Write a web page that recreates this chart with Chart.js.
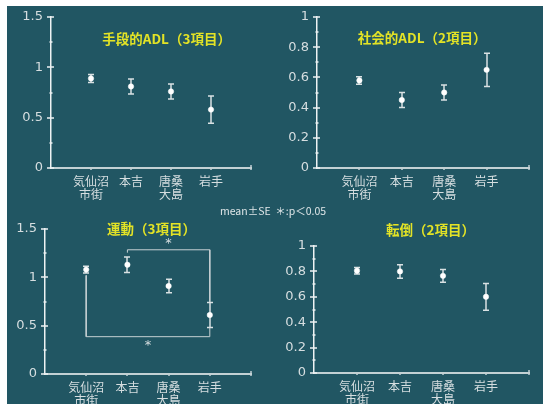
<!DOCTYPE html>
<html>
<head>
<meta charset="utf-8">
<script src="https://cdn.jsdelivr.net/npm/chart.js@4.4.1/dist/chart.umd.min.js"></script>
<style>
    body { margin: 0; background: #ffffff; }
    #board { position: absolute; left: 7px; top: 6px; width: 536px; height: 398px; background: #215663; }
    canvas { position: absolute; }
    #note {
        position: absolute; left: 220px; top: 203px;
        font: 10.5px "Noto Sans CJK JP", sans-serif; color: #dfe6e8; white-space: pre;
    }
</style>
</head>
<body>
<div id="board"></div>
<canvas id="iadlChart" width="272" height="205" style="left:0;top:0"></canvas>
<canvas id="socialChart" width="271" height="205" style="left:272px;top:0"></canvas>
<canvas id="motorChart" width="272" height="199" style="left:0;top:205px"></canvas>
<canvas id="fallChart" width="271" height="199" style="left:272px;top:205px"></canvas>
<div id="note">mean±SE  ＊:p＜0.05</div>
<script>
const categories = [['気仙沼', '市街'], '本吉', ['唐桑', '大島'], '岩手'];

const iadlMean = [0.89, 0.81, 0.76, 0.58];
const iadlSE = [0.04, 0.075, 0.075, 0.135];

const socialMean = [0.58, 0.45, 0.50, 0.65];
const socialSE = [0.025, 0.05, 0.05, 0.11];

const motorMean = [1.08, 1.13, 0.91, 0.61];
const motorSE = [0.035, 0.08, 0.07, 0.13];

const fallMean = [0.805, 0.80, 0.765, 0.60];
const fallSE = [0.025, 0.053, 0.05, 0.105];

const ticksWide = [0, 0.5, 1, 1.5];
const ticksUnit = [0, 0.2, 0.4, 0.6, 0.8, 1];

// significance brackets of the motor panel, in data units
const sigUpper = [{ x: 2, y: 1.255 }, { x: 2, y: 1.285 }, { x: 4, y: 1.285 }, { x: 4, y: 0.745 }];
const sigLower = [{ x: 1, y: 1.02 }, { x: 1, y: 0.386 }, { x: 4, y: 0.386 }, { x: 4, y: 0.48 }];
const sigStars = [{ x: 3, y: 1.345 }, { x: 2.5, y: 0.295 }];

const colors = {
    axisY: '#eef2f3',
    axisX: '#c3d1d4',
    text: '#d6dee0',
    bar: '#d9e1e3',
    point: '#ffffff',
    bracket: '#c6d0d3',
    title: '#e3e326',
};

const errorBars = {
    id: 'errorBars',
    beforeDatasetsDraw(chart, args, opts) {
        const { ctx } = chart;
        const x = chart.scales.x;
        const y = chart.scales.y;
        ctx.save();
        ctx.strokeStyle = colors.bar;
        ctx.lineWidth = 1.5;
        opts.mean.forEach((m, i) => {
            const px = Math.round(x.getPixelForValue(i + 1));
            const top = y.getPixelForValue(m + opts.se[i]);
            const bottom = y.getPixelForValue(m - opts.se[i]);
            ctx.beginPath();
            ctx.moveTo(px, top);
            ctx.lineTo(px, bottom);
            ctx.moveTo(px - 3, top);
            ctx.lineTo(px + 3, top);
            ctx.moveTo(px - 3, bottom);
            ctx.lineTo(px + 3, bottom);
            ctx.stroke();
        });
        ctx.restore();
    },
};

const axisMarks = {
    id: 'axisMarks',
    afterDraw(chart, args, opts) {
        const { ctx, chartArea } = chart;
        const x = chart.scales.x;
        const y = chart.scales.y;
        ctx.save();
        ctx.strokeStyle = colors.axisY;
        ctx.lineWidth = 1.5;
        y.ticks.forEach((t) => {
            const py = Math.round(y.getPixelForValue(t.value));
            const major = opts.majors.some((v) => Math.abs(v - t.value) < 1e-6);
            ctx.beginPath();
            if (major) {
                ctx.moveTo(chartArea.left - 4, py);
                ctx.lineTo(chartArea.left + 3, py);
            } else {
                ctx.moveTo(chartArea.left - 1.5, py);
                ctx.lineTo(chartArea.left + 1.5, py);
            }
            ctx.stroke();
        });
        ctx.strokeStyle = colors.axisX;
        [1, 2, 3, 4, 5].forEach((v) => {
            const px = Math.round(x.getPixelForValue(v));
            ctx.beginPath();
            ctx.moveTo(px, chartArea.bottom - (v === 5 ? 3 : 1));
            ctx.lineTo(px, chartArea.bottom + 2);
            ctx.stroke();
        });
        ctx.restore();
    },
};

const panelText = {
    id: 'panelText',
    afterDatasetsDraw(chart, args, opts) {
        const { ctx } = chart;
        const x = chart.scales.x;
        const y = chart.scales.y;
        ctx.save();
        ctx.textAlign = 'center';
        ctx.textBaseline = 'middle';
        ctx.fillStyle = colors.title;
        ctx.font = 'bold 13.5px "Noto Sans CJK JP", sans-serif';
        ctx.fillText(opts.title, x.getPixelForValue(opts.at.x), y.getPixelForValue(opts.at.y));
        ctx.fillStyle = colors.text;
        ctx.font = '13px "DejaVu Sans", sans-serif';
        (opts.stars || []).forEach((s) => {
            ctx.fillText('*', x.getPixelForValue(s.x), y.getPixelForValue(s.y));
        });
        ctx.restore();
    },
};

function makePanel(id, box, mean, se, yMax, step, majors, title, titleAt, extra) {
    const canvas = document.getElementById(id);
    const datasets = [{
        data: mean.map((m, i) => ({ x: i + 1, y: m })),
        pointRadius: 2.7,
        pointBorderWidth: 0.5,
        pointBackgroundColor: colors.point,
        pointBorderColor: colors.point,
    }];
    (extra.lines || []).forEach((line) => {
        datasets.push({
            data: line,
            showLine: true,
            tension: 0,
            pointRadius: 0,
            borderColor: colors.bracket,
            borderWidth: 1,
        });
    });

    new Chart(canvas, {
        type: 'scatter',
        data: { datasets },
        plugins: [errorBars, axisMarks, panelText],
        options: {
            responsive: false,
            animation: false,
            devicePixelRatio: 1,
            layout: {
                padding: { left: 0, top: box.top, right: canvas.width - box.right, bottom: 0 },
            },
            plugins: {
                legend: { display: false },
                tooltip: { enabled: false },
                errorBars: { mean, se },
                axisMarks: { majors },
                panelText: { title, at: titleAt, stars: extra.stars },
            },
            scales: {
                x: {
                    type: 'linear',
                    min: 0,
                    max: 5,
                    afterFit(scale) { scale.height = canvas.height - box.bottom; },
                    ticks: {
                        stepSize: 1,
                        autoSkip: false,
                        maxRotation: 0,
                        padding: 7,
                        color: colors.text,
                        font: { family: '"Noto Sans CJK JP", sans-serif', size: 12, lineHeight: 1.1 },
                        callback: (v) => categories[v - 1] || '',
                    },
                    grid: { display: false, drawTicks: false },
                    border: { display: true, color: colors.axisX, width: 2 },
                },
                y: {
                    min: 0,
                    max: yMax,
                    afterFit(scale) { scale.width = box.left; },
                    ticks: {
                        stepSize: step,
                        autoSkip: false,
                        padding: 8,
                        color: colors.text,
                        font: { family: '"DejaVu Sans", sans-serif', size: 13 },
                        callback: (v) => (majors.some((m) => Math.abs(m - v) < 1e-6) ? String(v) : ''),
                    },
                    grid: { display: false, drawTicks: false },
                    border: { display: true, color: colors.axisY, width: 1.5 },
                },
            },
        },
    });
}

makePanel('iadlChart', { left: 51, top: 17, right: 251, bottom: 168 },
    iadlMean, iadlSE, 1.5, 0.25, ticksWide, '手段的ADL（3項目）', { x: 2.89, y: 1.28 }, {});

makePanel('socialChart', { left: 45, top: 17, right: 257, bottom: 168 },
    socialMean, socialSE, 1, 0.1, ticksUnit, '社会的ADL（2項目）', { x: 2.48, y: 0.86 }, {});

makePanel('motorChart', { left: 45, top: 24, right: 251, bottom: 169 },
    motorMean, motorSE, 1.5, 0.25, ticksWide, '運動（3項目）', { x: 2.585, y: 1.5 },
    { lines: [sigUpper, sigLower], stars: sigStars });

makePanel('fallChart', { left: 42, top: 41, right: 257, bottom: 168 },
    fallMean, fallSE, 1, 0.1, ticksUnit, '転倒（2項目）', { x: 2.71, y: 1.13 }, {});
</script>
</body>
</html>
